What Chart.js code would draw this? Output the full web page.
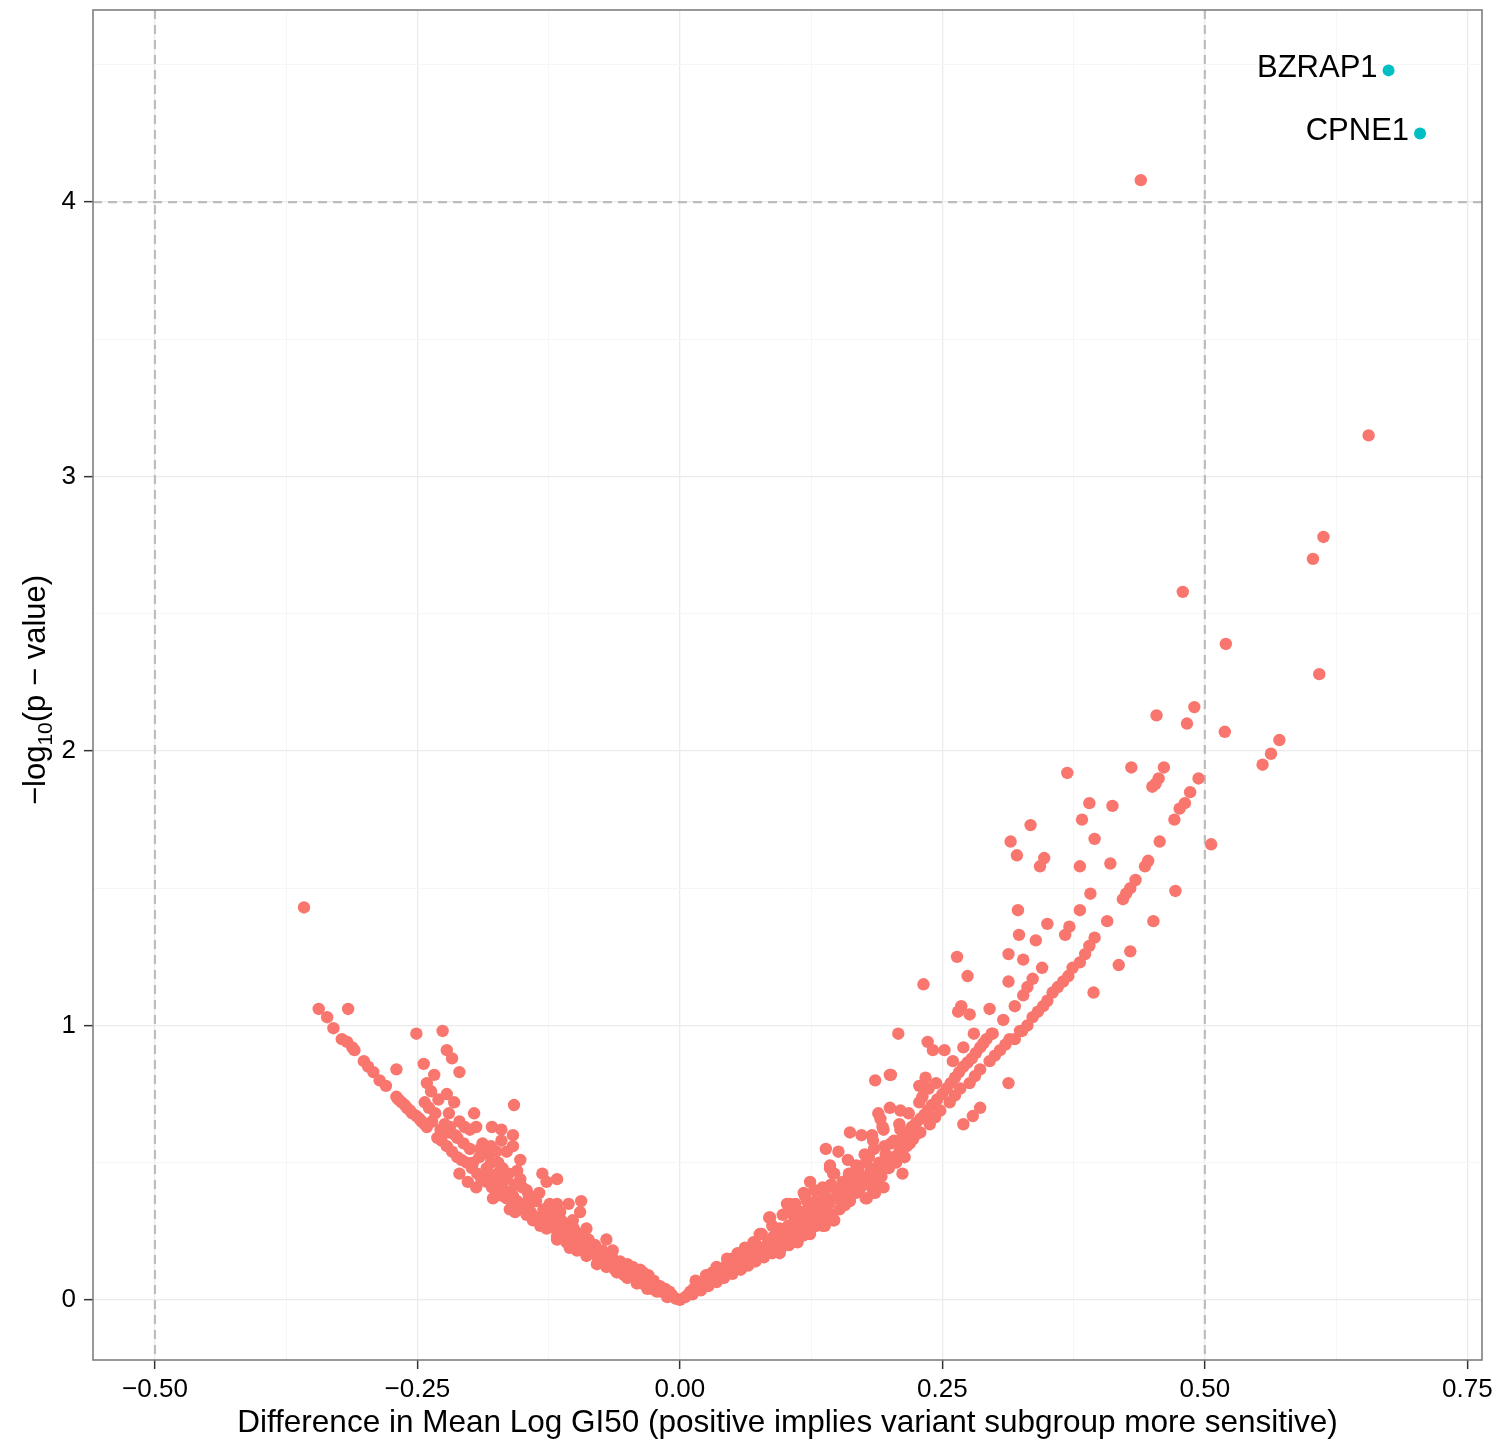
<!DOCTYPE html>
<html>
<head>
<meta charset="utf-8">
<title>Volcano plot</title>
<script src="https://cdn.jsdelivr.net/npm/chart.js@4.4.1/dist/chart.umd.min.js"></script>
<style>
  html, body { margin: 0; padding: 0; background: #ffffff; }
  canvas { display: block; }
</style>
</head>
<body>
<canvas id="volcanoChart" width="1499" height="1442"></canvas>
<script>
// x = difference in mean log GI50, y = -log10(p-value)
var leftGenes = [
    [-0.358, 1.43], [-0.344, 1.06], [-0.316, 1.06], [-0.336, 1.03], [-0.330, 0.99], [-0.322, 0.95],
    [-0.317, 0.94], [-0.312, 0.92], [-0.310, 0.91], [-0.301, 0.87], [-0.297, 0.85], [-0.292, 0.83],
    [-0.270, 0.84], [-0.286, 0.80], [-0.280, 0.78], [-0.270, 0.74], [-0.268, 0.73], [-0.265, 0.72],
    [-0.262, 0.71], [-0.260, 0.70], [-0.257, 0.69], [-0.255, 0.68], [-0.251, 0.67], [-0.248, 0.66],
    [-0.246, 0.65], [-0.243, 0.64], [-0.241, 0.63], [-0.251, 0.97], [-0.226, 0.98], [-0.222, 0.91],
    [-0.217, 0.88], [-0.210, 0.83], [-0.244, 0.86], [-0.234, 0.82], [-0.241, 0.79], [-0.237, 0.76],
    [-0.215, 0.72], [-0.243, 0.72], [-0.239, 0.70], [-0.233, 0.68], [-0.196, 0.68], [-0.158, 0.71],
    [-0.224, 0.64], [-0.219, 0.63], [-0.210, 0.65], [-0.205, 0.63], [-0.200, 0.62], [-0.194, 0.63],
    [-0.179, 0.63], [-0.170, 0.62], [-0.212, 0.59],
    [-0.231, 0.59], [-0.227, 0.58], [-0.222, 0.56], [-0.217, 0.54], [-0.212, 0.52], [-0.208, 0.51],
    [-0.203, 0.50], [-0.198, 0.48], [-0.193, 0.46], [-0.189, 0.44], [-0.184, 0.43], [-0.179, 0.41],
    [-0.174, 0.40], [-0.170, 0.38], [-0.165, 0.37], [-0.159, 0.35], [-0.152, 0.33], [-0.146, 0.31],
    [-0.140, 0.29], [-0.133, 0.27], [-0.127, 0.26], [-0.117, 0.23], [-0.108, 0.21], [-0.098, 0.18],
    [-0.089, 0.16], [-0.079, 0.13], [-0.070, 0.12], [-0.060, 0.10], [-0.050, 0.08], [-0.041, 0.06],
    [-0.031, 0.04], [-0.022, 0.03], [-0.012, 0.01], [-0.004, 0.005], [0.0, 0.0],
    [-0.159, 0.60], [-0.159, 0.56], [-0.188, 0.57], [-0.190, 0.55], [-0.182, 0.53], [-0.173, 0.50],
    [-0.165, 0.54], [-0.152, 0.51], [-0.155, 0.47], [-0.210, 0.46], [-0.202, 0.43], [-0.194, 0.41],
    [-0.178, 0.37], [-0.162, 0.33], [-0.157, 0.32], [-0.131, 0.46], [-0.117, 0.44], [-0.127, 0.43],
    [-0.134, 0.39], [-0.117, 0.35], [-0.106, 0.35], [-0.094, 0.36], [-0.095, 0.32], [-0.117, 0.22],
    [-0.105, 0.19], [-0.070, 0.22], [-0.064, 0.18], [-0.050, 0.13], [-0.035, 0.10], [-0.146, 0.40],
    [-0.140, 0.36], [-0.152, 0.44], [-0.165, 0.44], [-0.174, 0.46], [-0.184, 0.48], [-0.197, 0.50],
    [-0.171, 0.41], [-0.159, 0.38], [-0.145, 0.33], [-0.131, 0.30], [-0.121, 0.27], [-0.108, 0.24],
    [-0.095, 0.22], [-0.083, 0.18], [-0.076, 0.16], [-0.064, 0.15], [-0.038, 0.11], [-0.089, 0.26],
    [-0.102, 0.29], [-0.114, 0.32], [-0.111, 0.27], [-0.025, 0.07], [-0.019, 0.05], [-0.045, 0.12],
    [-0.057, 0.14], [-0.030, 0.09], [-0.010, 0.03], [-0.015, 0.04],
    [-0.008, 0.02], [-0.014, 0.04], [-0.018, 0.03], [-0.024, 0.05], [-0.027, 0.04], [-0.033, 0.07],
    [-0.036, 0.06], [-0.040, 0.09], [-0.044, 0.08], [-0.048, 0.10], [-0.053, 0.09], [-0.055, 0.12],
    [-0.060, 0.13], [-0.062, 0.11], [-0.066, 0.14], [-0.068, 0.16], [-0.072, 0.13], [-0.074, 0.18],
    [-0.078, 0.15], [-0.081, 0.20], [-0.085, 0.17], [-0.087, 0.22], [-0.092, 0.19], [-0.096, 0.24],
    [-0.099, 0.21], [-0.101, 0.26], [-0.104, 0.22], [-0.110, 0.25], [-0.113, 0.29], [-0.119, 0.26],
    [-0.122, 0.31], [-0.124, 0.35], [-0.128, 0.28], [-0.130, 0.33], [-0.135, 0.30], [-0.137, 0.36],
    [-0.142, 0.32], [-0.144, 0.38], [-0.149, 0.35], [-0.150, 0.41], [-0.155, 0.36], [-0.157, 0.42],
    [-0.161, 0.39], [-0.163, 0.46], [-0.167, 0.40], [-0.169, 0.48], [-0.172, 0.43], [-0.176, 0.45],
    [-0.180, 0.50], [-0.186, 0.46], [-0.191, 0.52], [-0.200, 0.55], [-0.206, 0.57], [-0.214, 0.60],
    [-0.220, 0.61], [-0.228, 0.62], [-0.236, 0.65], [-0.220, 0.68], [-0.230, 0.73], [-0.222, 0.75],
    [-0.180, 0.56], [-0.170, 0.58], [-0.175, 0.54]
];

var rightGenes = [
    [0.439, 4.08], [0.656, 3.15], [0.613, 2.78], [0.603, 2.70], [0.479, 2.58], [0.520, 2.39],
    [0.609, 2.28], [0.490, 2.16], [0.454, 2.13], [0.483, 2.10], [0.519, 2.07], [0.571, 2.04],
    [0.563, 1.99], [0.555, 1.95], [0.369, 1.92], [0.430, 1.94], [0.461, 1.94], [0.456, 1.90],
    [0.453, 1.88], [0.450, 1.87], [0.494, 1.90], [0.390, 1.81], [0.412, 1.80], [0.486, 1.85],
    [0.481, 1.81], [0.476, 1.79], [0.471, 1.75], [0.334, 1.73], [0.383, 1.75], [0.315, 1.67],
    [0.395, 1.68], [0.457, 1.67], [0.506, 1.66], [0.321, 1.62], [0.343, 1.58], [0.347, 1.61],
    [0.381, 1.58], [0.410, 1.59], [0.446, 1.60], [0.443, 1.58], [0.434, 1.53], [0.429, 1.50],
    [0.425, 1.48], [0.422, 1.46], [0.472, 1.49], [0.391, 1.48], [0.322, 1.42], [0.381, 1.42],
    [0.350, 1.37], [0.407, 1.38], [0.451, 1.38], [0.371, 1.36], [0.367, 1.33], [0.323, 1.33],
    [0.339, 1.31],
    [0.395, 1.32], [0.390, 1.29], [0.386, 1.26], [0.381, 1.23], [0.374, 1.21], [0.370, 1.18],
    [0.365, 1.16], [0.360, 1.14], [0.355, 1.12], [0.350, 1.09], [0.346, 1.07], [0.341, 1.05],
    [0.336, 1.03], [0.331, 1.00], [0.326, 0.98], [0.319, 0.95],
    [0.429, 1.27], [0.418, 1.22], [0.313, 1.26], [0.327, 1.24], [0.345, 1.21], [0.336, 1.17],
    [0.331, 1.14], [0.327, 1.11], [0.313, 1.16], [0.394, 1.12], [0.319, 1.07], [0.295, 1.06],
    [0.308, 1.02], [0.297, 0.97], [0.232, 1.15], [0.264, 1.25], [0.274, 1.18],
    [0.208, 0.97], [0.236, 0.94], [0.241, 0.91], [0.252, 0.91], [0.268, 1.07], [0.265, 1.05],
    [0.276, 1.04], [0.280, 0.97], [0.270, 0.92], [0.260, 0.87], [0.200, 0.82], [0.186, 0.80],
    [0.234, 0.81], [0.228, 0.78], [0.244, 0.79], [0.237, 0.77], [0.231, 0.74], [0.228, 0.72],
    [0.200, 0.70], [0.210, 0.69], [0.218, 0.68], [0.189, 0.68], [0.193, 0.63], [0.209, 0.64],
    [0.173, 0.60], [0.184, 0.58], [0.195, 0.56], [0.313, 0.79], [0.286, 0.70], [0.279, 0.67],
    [0.270, 0.64], [0.212, 0.46], [0.194, 0.41], [0.184, 0.39], [0.178, 0.37],
    [0.212, 0.59], [0.216, 0.61], [0.221, 0.63], [0.225, 0.645], [0.229, 0.66], [0.233, 0.675],
    [0.236, 0.69], [0.240, 0.71], [0.245, 0.73], [0.250, 0.75], [0.254, 0.77], [0.258, 0.79],
    [0.262, 0.81], [0.266, 0.83], [0.270, 0.85], [0.274, 0.865], [0.278, 0.88], [0.282, 0.90],
    [0.286, 0.92], [0.289, 0.935], [0.292, 0.95], [0.298, 0.97],
    [0.203, 0.52], [0.209, 0.54], [0.216, 0.56], [0.222, 0.585], [0.229, 0.61], [0.238, 0.64],
    [0.243, 0.665], [0.248, 0.69], [0.257, 0.72], [0.262, 0.745], [0.267, 0.77], [0.276, 0.79],
    [0.281, 0.815], [0.286, 0.84], [0.295, 0.87], [0.300, 0.89], [0.305, 0.91], [0.310, 0.93],
    [0.314, 0.95], [0.324, 0.98],
    [0.188, 0.46], [0.175, 0.42], [0.162, 0.36], [0.152, 0.33], [0.195, 0.49], [0.181, 0.44],
    [0.168, 0.39], [0.157, 0.345], [0.145, 0.31], [0.138, 0.29], [0.130, 0.27], [0.122, 0.25],
    [0.139, 0.55], [0.151, 0.54], [0.160, 0.51], [0.143, 0.49], [0.147, 0.46], [0.160, 0.44],
    [0.170, 0.47], [0.177, 0.50], [0.180, 0.52], [0.186, 0.48], [0.186, 0.39], [0.177, 0.37],
    [0.124, 0.43], [0.119, 0.38], [0.136, 0.41], [0.147, 0.29], [0.138, 0.27], [0.124, 0.24],
    [0.112, 0.21], [0.085, 0.30], [0.076, 0.24], [0.102, 0.35], [0.106, 0.32], [0.095, 0.26],
    [0.068, 0.19], [0.051, 0.15], [0.031, 0.10], [0.017, 0.06], [0.201, 0.82], [0.191, 0.66],
    [0.194, 0.62], [0.210, 0.62], [0.162, 0.61], [0.183, 0.60], [0.201, 0.57],
    [0.143, 0.48], [0.146, 0.46], [0.141, 0.41], [0.105, 0.35], [0.086, 0.30], [0.136, 0.27],
    [0.146, 0.29], [0.111, 0.22], [0.095, 0.17], [0.073, 0.20], [0.057, 0.15], [0.045, 0.13],
    [0.029, 0.09], [0.016, 0.05], [0.121, 0.36], [0.108, 0.27], [0.089, 0.23], [0.070, 0.17],
    [0.050, 0.15], [0.035, 0.10], [0.022, 0.06], [0.010, 0.03],
    [0.005, 0.01], [0.012, 0.02], [0.020, 0.035], [0.027, 0.05], [0.035, 0.065], [0.042, 0.08],
    [0.050, 0.095], [0.058, 0.11], [0.065, 0.125], [0.072, 0.14], [0.080, 0.155], [0.088, 0.17],
    [0.096, 0.185], [0.104, 0.20], [0.112, 0.22], [0.118, 0.235],
    [0.015, 0.07], [0.025, 0.09], [0.035, 0.12], [0.045, 0.15], [0.055, 0.17], [0.062, 0.19],
    [0.070, 0.21], [0.078, 0.24], [0.088, 0.27], [0.098, 0.31], [0.110, 0.35], [0.118, 0.39],
    [0.128, 0.40], [0.040, 0.10], [0.060, 0.14], [0.080, 0.19], [0.092, 0.21], [0.100, 0.24],
    [0.115, 0.28], [0.125, 0.31], [0.132, 0.34], [0.140, 0.37], [0.150, 0.40], [0.155, 0.43],
    [0.165, 0.45], [0.172, 0.43], [0.168, 0.49],
    [0.008, 0.02], [0.013, 0.04], [0.018, 0.05], [0.023, 0.06], [0.028, 0.07], [0.032, 0.08],
    [0.037, 0.09], [0.043, 0.11], [0.047, 0.12], [0.052, 0.12], [0.053, 0.14], [0.057, 0.13],
    [0.062, 0.15], [0.066, 0.16], [0.068, 0.14], [0.074, 0.17], [0.076, 0.19], [0.082, 0.17],
    [0.084, 0.21], [0.086, 0.19], [0.090, 0.20], [0.093, 0.24], [0.097, 0.22], [0.101, 0.21],
    [0.103, 0.27], [0.107, 0.24], [0.109, 0.30], [0.113, 0.26], [0.116, 0.32], [0.117, 0.25],
    [0.120, 0.28], [0.123, 0.34], [0.126, 0.28], [0.129, 0.36], [0.131, 0.30], [0.134, 0.32],
    [0.137, 0.38], [0.139, 0.33], [0.142, 0.35], [0.144, 0.42], [0.149, 0.38], [0.153, 0.36],
    [0.156, 0.41], [0.158, 0.38], [0.161, 0.46], [0.164, 0.40], [0.166, 0.42], [0.169, 0.44],
    [0.171, 0.40], [0.174, 0.45], [0.176, 0.53], [0.179, 0.42], [0.182, 0.47], [0.185, 0.55],
    [0.187, 0.43], [0.190, 0.50], [0.192, 0.45], [0.196, 0.53], [0.199, 0.48], [0.204, 0.58],
    [0.206, 0.50], [0.211, 0.55], [0.214, 0.52], [0.219, 0.57], [0.224, 0.60]
];

// the two genes past both cut-offs
var hitNames = ["BZRAP1", "CPNE1"];
var hitGenes = [[0.675, 4.48], [0.705, 4.25]];

// axes, ticks and cut-off lines
var xRange = [-0.559, 0.764];
var yRange = [-0.219, 4.70];
var xMajorTicks = [-0.5, -0.25, 0, 0.25, 0.5, 0.75];
var xMinorTicks = [-0.375, -0.125, 0.125, 0.375, 0.625];
var yMajorTicks = [0, 1, 2, 3, 4];
var yMinorTicks = [0.5, 1.5, 2.5, 3.5, 4.5];
var cutoffX = [-0.5, 0.5];
var cutoffY = [4];

var xTitle = "Difference in Mean Log GI50 (positive implies variant subgroup more sensitive)";
var FONT = '"Liberation Sans", Arial, Helvetica, sans-serif';

function toPoints(list) {
    return list.map(function (p) { return { x: p[0], y: p[1] }; });
}

function isMajor(list, v) {
    return list.some(function (m) { return Math.abs(m - v) < 1e-9; });
}

function gridOptions(majors) {
    return {
        color: function (c) { return isMajor(majors, c.tick.value) ? '#ebebeb' : '#f6f6f6'; },
        lineWidth: function (c) { return isMajor(majors, c.tick.value) ? 1.3 : 1; },
        tickColor: function (c) { return isMajor(majors, c.tick.value) ? '#333333' : 'rgba(0,0,0,0)'; },
        tickLength: 9,
        tickWidth: 1.5,
        drawOnChartArea: true
    };
}

// dashed cut-offs, panel border, gene labels, axis titles
var panelPlugin = {
    id: 'panelPlugin',
    beforeDatasetsDraw: function (chart) {
        var ctx = chart.ctx, a = chart.chartArea;
        var xs = chart.scales.x, ys = chart.scales.y;
        ctx.save();
        ctx.beginPath();
        ctx.rect(a.left, a.top, a.right - a.left, a.bottom - a.top);
        ctx.clip();
        ctx.strokeStyle = '#bdbdbd';
        ctx.lineWidth = 2.2;
        ctx.setLineDash([9, 6]);
        cutoffX.forEach(function (v) {
            var px = xs.getPixelForValue(v);
            ctx.beginPath(); ctx.moveTo(px, a.top); ctx.lineTo(px, a.bottom); ctx.stroke();
        });
        cutoffY.forEach(function (v) {
            var py = ys.getPixelForValue(v);
            ctx.beginPath(); ctx.moveTo(a.left, py); ctx.lineTo(a.right, py); ctx.stroke();
        });
        ctx.restore();
    },
    afterDatasetsDraw: function (chart) {
        var ctx = chart.ctx, a = chart.chartArea;
        var xs = chart.scales.x, ys = chart.scales.y;
        ctx.save();
        ctx.strokeStyle = '#7f7f7f';
        ctx.lineWidth = 1.6;
        ctx.strokeRect(a.left, a.top, a.right - a.left, a.bottom - a.top);

        ctx.fillStyle = '#000000';
        ctx.font = '31px ' + FONT;
        ctx.textAlign = 'right';
        ctx.textBaseline = 'middle';
        hitGenes.forEach(function (p, i) {
            ctx.fillText(hitNames[i], xs.getPixelForValue(p[0]) - 11, ys.getPixelForValue(p[1]) - 2);
        });
        ctx.restore();
    },
    afterDraw: function (chart) {
        var ctx = chart.ctx, a = chart.chartArea;
        ctx.save();
        ctx.fillStyle = '#000000';
        ctx.textBaseline = 'alphabetic';

        // x title
        ctx.font = '31.5px ' + FONT;
        ctx.textAlign = 'center';
        ctx.fillText(xTitle, (a.left + a.right) / 2, 1432);

        // y title: -log10(p - value), with subscript
        var parts = [
            { t: '\u2212log', size: 31, dy: 0 },
            { t: '10', size: 21, dy: 7 },
            { t: '(p \u2212 value)', size: 31, dy: 0 }
        ];
        var total = 0;
        parts.forEach(function (p) {
            ctx.font = p.size + 'px ' + FONT;
            p.w = ctx.measureText(p.t).width;
            total += p.w;
        });
        ctx.translate(45, 690);
        ctx.rotate(-Math.PI / 2);
        ctx.textAlign = 'left';
        var x0 = -total / 2;
        parts.forEach(function (p) {
            ctx.font = p.size + 'px ' + FONT;
            ctx.fillText(p.t, x0, p.dy);
            x0 += p.w;
        });
        ctx.restore();
    }
};

var ctx = document.getElementById("volcanoChart");
var volcanoChart = new Chart(ctx, {
    type: 'scatter',
    data: {
        datasets: [{
            label: 'genes',
            data: toPoints(leftGenes.concat(rightGenes)),
            backgroundColor: '#F8766D',
            borderWidth: 0,
            pointRadius: 6.2,
            pointHoverRadius: 6.2
        }, {
            label: 'hits',
            data: toPoints(hitGenes),
            backgroundColor: '#00BFC4',
            borderWidth: 0,
            pointRadius: 6,
            pointHoverRadius: 6
        }]
    },
    options: {
        responsive: false,
        animation: false,
        events: [],
        layout: { padding: { top: 10, right: 17, left: 0, bottom: 0 } },
        plugins: {
            legend: { display: false },
            tooltip: { enabled: false },
            title: { display: false }
        },
        scales: {
            x: {
                type: 'linear',
                position: 'bottom',
                min: xRange[0],
                max: xRange[1],
                afterBuildTicks: function (s) {
                    s.ticks = xMajorTicks.concat(xMinorTicks).sort(function (a, b) { return a - b; })
                        .map(function (v) { return { value: v }; });
                },
                afterFit: function (s) {
                    s.height = 82;
                    s.paddingLeft = 0;
                    s.paddingRight = 0;
                },
                grid: gridOptions(xMajorTicks),
                border: { display: false },
                ticks: {
                    autoSkip: false,
                    maxRotation: 0,
                    padding: 5,
                    color: '#000000',
                    font: { family: FONT, size: 26 },
                    callback: function (v) {
                        if (!isMajor(xMajorTicks, v)) return '';
                        return v.toFixed(2).replace('-', '\u2212');
                    }
                }
            },
            y: {
                type: 'linear',
                min: yRange[0],
                max: yRange[1],
                afterBuildTicks: function (s) {
                    s.ticks = yMajorTicks.concat(yMinorTicks).sort(function (a, b) { return a - b; })
                        .map(function (v) { return { value: v }; });
                },
                afterFit: function (s) {
                    s.width = 93;
                    s.paddingTop = 0;
                    s.paddingBottom = 0;
                },
                grid: gridOptions(yMajorTicks),
                border: { display: false },
                ticks: {
                    autoSkip: false,
                    padding: 8,
                    color: '#000000',
                    font: { family: FONT, size: 26 },
                    callback: function (v) {
                        return isMajor(yMajorTicks, v) ? String(v) : '';
                    }
                }
            }
        }
    },
    plugins: [panelPlugin]
});
</script>
</body>
</html>
